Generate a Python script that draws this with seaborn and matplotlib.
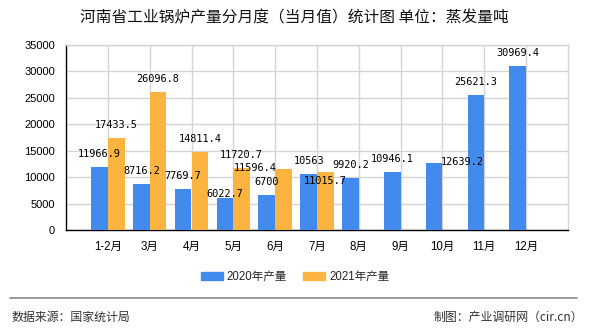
import numpy as np
import pandas as pd
import matplotlib
matplotlib.use("Agg")
import matplotlib.pyplot as plt
from matplotlib.lines import Line2D
import seaborn as sns

# ---------------- data ----------------
months = ["1-2月", "3月", "4月", "5月", "6月", "7月", "8月", "9月", "10月", "11月", "12月"]
series_names = ["2020年产量", "2021年产量"]
values_2020 = [11966.9, 8716.2, 7769.7, 6022.7, 6700, 10563, 9920.2, 10946.1, 12639.2, 25621.3, 30969.4]
values_2021 = [17433.5, 26096.8, 14811.4, 11720.7, 11596.4, 11015.7]
yticks = [0, 5000, 10000, 15000, 20000, 25000, 30000, 35000]

title = "河南省工业锅炉产量分月度（当月值）统计图 单位：蒸发量吨"
source_text = "数据来源：国家统计局"
credit_text = "制图：产业调研网（cir.cn）"

# label placement tweaks (pixels, dx / dy of text centre from bar top centre)
default_offset = (0, 13)
label_offsets = {
    (0, 3): (0, 4),
    (0, 8): (28, 1),
    (1, 4): (-28, 1),
    (1, 5): (0, -9),
}

colors = ["#428BEC", "#FBB43F"]

rows = []
for m, v in zip(months, values_2020):
    rows.append({"month": m, "series": series_names[0], "value": v})
for m, v in zip(months, values_2021):
    rows.append({"month": m, "series": series_names[1], "value": v})
df = pd.DataFrame(rows)

sns.set_style("white")
plt.rcParams["font.family"] = ["Liberation Sans", "Noto Sans CJK SC", "DejaVu Sans"]

fig = plt.figure(figsize=(5.9, 3.3), dpi=100)
ax = fig.add_axes([66 / 590, 1 - 230 / 330, 502 / 590, 185 / 330])

sns.barplot(data=df, x="month", y="value", hue="series", order=months,
            hue_order=series_names, palette=colors, width=0.8, saturation=1,
            ax=ax, errorbar=None, zorder=3, linewidth=0, edgecolor="none")

ax.set_xlim(-1, len(months))
ax.set_ylim(0, 35000)
ax.set_yticks(yticks)
ax.set_yticklabels([str(t) for t in yticks])
ax.set_xlabel("")
ax.set_ylabel("")

grid_c = "#d4d4d4"
ax.grid(True, axis="both", color=grid_c, linewidth=1, zorder=0)
ax.set_axisbelow(True)
for s in ["top", "right"]:
    ax.spines[s].set_color(grid_c)
    ax.spines[s].set_linewidth(1)
for s in ["left", "bottom"]:
    ax.spines[s].set_color("black")
    ax.spines[s].set_linewidth(1)
ax.tick_params(axis="both", which="both", direction="out", length=5, width=1,
               color="black", labelsize=8, labelcolor="black", pad=3)
ax.tick_params(axis="x", labelsize=8.3)

# value labels
for si, cont in enumerate(ax.containers):
    for bar in cont:
        h = bar.get_height()
        if h is None or np.isnan(h) or h == 0:
            continue
        xc = bar.get_x() + bar.get_width() / 2
        ci = int(round(xc))
        dx, dy = label_offsets.get((si, ci), default_offset)
        ax.annotate(f"{h:g}", xy=(xc, h), xytext=(dx, dy), textcoords="offset pixels",
                    ha="center", va="center", fontsize=7.4,
                    family=["DejaVu Sans Mono"], color="black", zorder=5)

# legend
leg = ax.get_legend()
if leg is not None:
    leg.remove()
handles = [plt.Rectangle((0, 0), 1, 1, color=c) for c in colors]
fig.legend(handles, series_names, loc="center", bbox_to_anchor=(0.5, 1 - 277 / 330),
           ncol=2, frameon=False, fontsize=8.3, handlelength=1.9, handleheight=0.65,
           handletextpad=0.35, columnspacing=1.4)

# title and footer
fig.text(294 / 590, 1 - 18 / 330, title, ha="center", va="center", fontsize=11.3,
         family=["Noto Sans CJK SC", "DejaVu Sans"], color="#111111")
fig.add_artist(Line2D([10 / 590, 577 / 590], [1 - 298 / 330] * 2, color="#888888", lw=1.2))
fig.text(12 / 590, 1 - 317 / 330, source_text, ha="left", va="center", fontsize=8.6,
         family=["Noto Sans CJK SC", "DejaVu Sans"], color="#333333")
fig.text(583 / 590, 1 - 317 / 330, credit_text, ha="right", va="center", fontsize=8.6,
         family=["Noto Sans CJK SC", "DejaVu Sans"], color="#333333")

fig.savefig("out.png", dpi=100)
